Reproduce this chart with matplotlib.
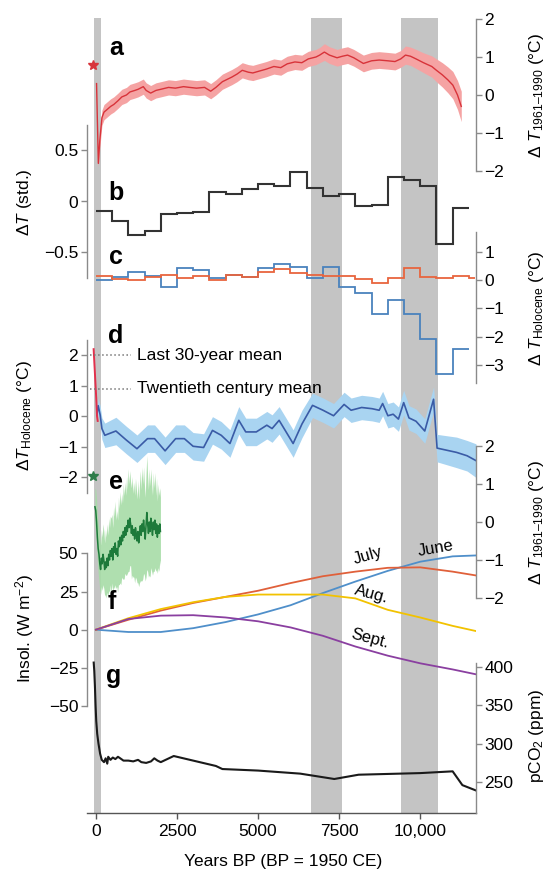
import numpy as np
import matplotlib
matplotlib.use("Agg")
import matplotlib.pyplot as plt

plt.rcParams['font.family'] = ['Liberation Sans', 'DejaVu Sans']
plt.rcParams['mathtext.fontset'] = 'custom'
plt.rcParams['mathtext.rm'] = 'Liberation Sans'
plt.rcParams['mathtext.it'] = 'Liberation Sans:italic'
plt.rcParams['mathtext.bf'] = 'Liberation Sans:bold'

# ---------------- data ----------------
x_ticks = [0, 2500, 5000, 7500, 10000]
x_tick_labels = ['0', '2500', '5000', '7500', '10,000']
bands = [(-60, 160), (6620, 7600), (9420, 10550)]

# (a) temperature reconstruction, deg C vs 1961-1990
a_years = [20, 75, 120, 185, 250, 320, 455, 550, 682, 800,
           942, 1050, 1200, 1300, 1461, 1550, 1688, 1850, 2000, 2240,
           2450, 2700, 2890, 3100, 3350, 3539, 3700, 3900, 4188, 4350,
           4513, 4700, 4838, 5000, 5250, 5487, 5700, 5900, 6136, 6350,
           6550, 6786, 6900, 7045, 7200, 7435, 7600, 7760, 7950, 8247,
           8500, 8734, 9000, 9221, 9400, 9545, 9700, 9870, 10100, 10357,
           10500, 10682, 10850, 11006, 11150, 11266]
a_vals = [0.3, -1.8, -1.2, -0.6, -0.45, -0.4, -0.3, -0.25, -0.15, -0.05,
          0.0, 0.08, 0.12, 0.15, 0.22, 0.12, 0.05, 0.12, 0.15, 0.2,
          0.18, 0.22, 0.2, 0.18, 0.2, 0.1, 0.2, 0.35, 0.47, 0.55,
          0.65, 0.6, 0.58, 0.62, 0.68, 0.75, 0.72, 0.82, 0.87, 0.85,
          0.95, 1.0, 1.05, 1.13, 1.05, 0.98, 1.02, 1.05, 0.98, 0.83,
          0.9, 0.92, 0.9, 0.88, 0.95, 1.05, 1.02, 0.95, 0.85, 0.75,
          0.65, 0.53, 0.4, 0.26, 0.0, -0.3]
a_err = [0.05, 0.1, 0.2, 0.2, 0.2, 0.2, 0.2, 0.2, 0.2, 0.2,
         0.2, 0.2, 0.2, 0.2, 0.2, 0.2, 0.2, 0.2, 0.2, 0.2,
         0.2, 0.2, 0.2, 0.2, 0.2, 0.2, 0.2, 0.2, 0.2, 0.2,
         0.2, 0.2, 0.2, 0.2, 0.2, 0.2, 0.2, 0.2, 0.2, 0.2,
         0.2, 0.2, 0.2, 0.22, 0.22, 0.22, 0.22, 0.22, 0.22, 0.22,
         0.22, 0.22, 0.22, 0.22, 0.22, 0.24, 0.24, 0.25, 0.26, 0.28,
         0.3, 0.32, 0.34, 0.36, 0.38, 0.4]
a_star_year, a_star_val = -100, 0.8

# (b) standardized anomalies, 500-yr bins
b_edges = [0, 500, 1000, 1500, 2000, 2500, 3000, 3500, 4000, 4500, 5000, 5500,
           6000, 6500, 7000, 7500, 8000, 8500, 9000, 9500, 10000, 10500, 11000, 11500]
b_vals = [-0.095, -0.19, -0.33, -0.29, -0.12, -0.11, -0.1, 0.095, 0.075, 0.125,
          0.167, 0.15, 0.29, 0.134, 0.05, 0.07, -0.045, -0.035, 0.24, 0.215,
          0.15, -0.415, -0.06]

# (c) binned composites (blue and red)
c_blue = [-0.02, 0.09, 0.29, 0.12, -0.26, 0.41, 0.35, 0.06, 0.18, 0.09,
          0.41, 0.55, 0.47, 0.06, 0.47, -0.26, -0.45, -1.2, -0.71, -1.2,
          -2.1, -3.33, -2.45]
c_red_edges = [0, 500, 1000, 1500, 2000, 2500, 3000, 3500, 4000, 4500, 5000, 5500,
               6000, 6500, 7000, 7500, 8000, 8500, 9000, 9500, 10000, 10500, 11000,
               11500, 11700]
c_red = [0.14, 0.02, 0.0, 0.09, 0.18, 0.06, 0.12, 0.0, 0.18, 0.09,
         0.29, 0.38, 0.24, 0.18, 0.14, 0.12, 0.02, -0.12, 0.05, 0.41,
         0.09, 0.05, 0.14, 0.05]

# (d) Holocene reconstruction
d_years = [30, 70, 130, 185, 275, 617, 942, 1266, 1591, 1808,
           2133, 2458, 2727, 2997, 3321, 3594, 3864, 4133, 4406, 4620,
           4945, 5270, 5432, 5649, 6081, 6354, 6679, 7003, 7328, 7653,
           7869, 8194, 8519, 8734, 8841, 9003, 9166, 9328, 9490, 9653,
           9870, 10140, 10412, 10520, 11120, 11444, 11720]
d_vals = [0.05, 0.35, 0.05, -0.4, -0.62, -0.48, -0.78, -1.06, -0.73, -0.73,
          -1.13, -0.73, -0.73, -0.98, -1.02, -0.46, -0.62, -0.89, -0.13, -0.51,
          -0.51, -0.29, -0.4, -0.13, -0.89, -0.25, 0.36, 0.2, 0.02, 0.39,
          0.2, 0.29, 0.25, 0.2, 0.42, 0.02, 0.07, -0.09, 0.45, -0.05,
          -0.16, -0.48, 0.56, -1.04, -1.18, -1.29, -1.45]
d_err = [0.2, 0.25, 0.3, 0.35, 0.4, 0.45, 0.45, 0.45, 0.45, 0.45,
         0.45, 0.45, 0.45, 0.45, 0.45, 0.45, 0.45, 0.45, 0.45, 0.45,
         0.45, 0.45, 0.45, 0.45, 0.45, 0.45, 0.4, 0.4, 0.4, 0.4,
         0.4, 0.4, 0.4, 0.4, 0.4, 0.4, 0.4, 0.4, 0.4, 0.4,
         0.4, 0.4, 0.4, 0.45, 0.5, 0.5, 0.55]
d_mod_years = [-70, -45, -20, 10, 35, 55]
d_mod_vals = [2.2, 1.7, 1.2, 0.6, 0.0, -0.15]
d_ref_levels = [2.0, 0.9]
d_ref_labels = ['Last 30-year mean', 'Twentieth century mean']

# (e) last 2000 years
e_years = [-30, -5, 20, 45, 70, 95, 120, 145, 170, 195,
           220, 245, 270, 295, 320, 345, 370, 395, 420, 445,
           470, 495, 520, 545, 570, 595, 620, 645, 670, 695,
           720, 745, 770, 795, 820, 845, 870, 895, 920, 945,
           970, 995, 1020, 1045, 1070, 1095, 1120, 1145, 1170, 1195,
           1220, 1245, 1270, 1295, 1320, 1345, 1370, 1395, 1420, 1445,
           1470, 1495, 1520, 1545, 1570, 1595, 1620, 1645, 1670, 1695,
           1720, 1745, 1770, 1795, 1820, 1845, 1870, 1895, 1920, 1945,
           1970, 1990]
e_vals = [0.4, 0.3, 0.0, -0.4, -0.7, -0.85, -1.1, -1.25, -0.95, -1.1,
          -0.85, -1.0, -1.25, -1.05, -1.2, -0.95, -1.15, -0.85, -1.0, -0.75,
          -0.9, -0.7, -1.0, -0.65, -0.8, -0.55, -0.85, -0.7, -0.9, -0.5,
          -0.65, -0.4, -0.6, -0.35, -0.5, -0.25, -0.4, -0.15, -0.35, -0.1,
          -0.25, 0.05, -0.15, 0.1, -0.05, -0.3, -0.1, -0.35, -0.2, -0.45,
          -0.15, -0.3, -0.5, -0.25, -0.55, -0.3, -0.1, -0.35, -0.05, -0.25,
          0.05, -0.2, -0.45, -0.1, 0.25, -0.05, -0.3, 0.0, -0.25, 0.1,
          -0.15, -0.35, 0.0, -0.2, 0.05, -0.3, -0.05, -0.4, -0.1, -0.3,
          -0.05, -0.25]
e_err = [0.5, 0.55, 0.6, 0.6, 0.65, 0.7, 0.7, 0.65, 0.75, 0.7,
         0.8, 0.75, 0.7, 0.85, 0.8, 0.9, 0.8, 0.95, 0.85, 0.9,
         1.0, 0.9, 0.85, 1.05, 0.95, 1.1, 0.9, 1.0, 0.95, 1.15,
         1.0, 1.2, 1.05, 1.1, 1.0, 1.25, 1.1, 1.2, 1.05, 1.3,
         1.1, 1.35, 1.15, 1.25, 1.1, 1.2, 1.3, 1.1, 1.25, 1.15,
         1.3, 1.2, 1.1, 1.35, 1.15, 1.3, 1.45, 1.2, 1.5, 1.25,
         1.4, 1.2, 1.1, 1.35, 1.5, 1.25, 1.15, 1.4, 1.2, 1.3,
         1.15, 1.05, 1.3, 1.1, 1.25, 1.0, 1.2, 0.95, 1.1, 1.0,
         0.95, 0.9]
e_star_year, e_star_val = -100, 1.2

# (f) insolation anomalies
f_years = [0, 1000, 2000, 3000, 4000, 5000, 6000, 7000, 8000, 9000, 10000, 11000, 11720]
f_june = [0, -1.5, -1.5, 1.0, 5.0, 10.0, 16.0, 24.0, 31.5, 38.5, 44.5, 48.0, 48.6]
f_july = [0, 6.5, 12.5, 17.5, 21.5, 25.5, 30.5, 35.0, 38.0, 40.5, 40.8, 38.0, 35.5]
f_aug = [0, 7.5, 13.5, 18.0, 21.5, 23.0, 23.0, 23.0, 20.5, 13.0, 8.0, 2.5, -0.9]
f_sept = [0, 7.0, 9.2, 9.5, 8.0, 5.5, 1.5, -4.0, -11.0, -17.0, -22.0, -26.0, -29.2]
f_month_labels = ['June', 'July', 'Aug.', 'Sept.']
f_label_pos = [(10490, 53.0, 10), (8390, 48.6, 16), (8490, 23.5, -15), (8463, -5.9, -15)]

# (g) CO2
co2_years = [-68, -50, -30, -10, 10, 40, 80, 130, 180, 250,
             300, 350, 380, 450, 520, 600, 680, 750, 850, 1000,
             1150, 1300, 1400, 1550, 1700, 1800, 1900, 2000, 2150, 2400,
             2800, 3300, 3700, 3900, 5000, 6300, 7350, 8100, 10000, 11000,
             11300, 11720]
co2_vals = [406, 395, 375, 350, 330, 313, 300, 287, 279, 276,
            281, 274, 283, 279, 282, 280, 283, 281, 278, 278,
            277, 279, 276, 275, 277, 281, 278, 276, 279, 284,
            280, 275, 271, 267, 265, 261, 254, 259.6, 261.7, 264,
            246, 239]

# ---------------- layout ----------------
W, H = 550, 871
fig = plt.figure(figsize=(W / 100, H / 100), dpi=100)
XL, XR = 86.5, 476
XLIM = (-290, 11720)
FS = 12.5
SPINE = '#8a8a8a'
MINUS = '\u2212'


def lab(v):
    s = ('%g' % v)
    return s.replace('-', MINUS)


def make_ax(top, bot, ylim, side, ticks, bounds=None):
    ax = fig.add_axes([XL / W, 1 - bot / H, (XR - XL) / W, (bot - top) / H])
    ax.set_xlim(XLIM)
    ax.set_ylim(ylim)
    ax.patch.set_visible(False)
    for s in ax.spines.values():
        s.set_visible(False)
    ax.set_xticks([])
    sp = ax.spines[side]
    sp.set_visible(True)
    sp.set_color(SPINE)
    sp.set_linewidth(1.0)
    if bounds is not None:
        sp.set_bounds(*bounds)
    if side == 'right':
        ax.yaxis.tick_right()
    else:
        ax.yaxis.tick_left()
    ax.set_yticks(ticks)
    ax.set_yticklabels([lab(t) for t in ticks])
    ax.tick_params(axis='y', direction='out', length=4, width=1, color=SPINE,
                   labelsize=FS, pad=2)
    return ax


# background axis with bands and x axis
TOP_BG, BOT_BG = 18, 812.7
axbg = fig.add_axes([XL / W, 1 - BOT_BG / H, (XR - XL) / W, (BOT_BG - TOP_BG) / H])
axbg.set_xlim(XLIM)
axbg.set_ylim(0, 1)
axbg.patch.set_visible(False)
for s in ['left', 'right', 'top']:
    axbg.spines[s].set_visible(False)
axbg.spines['bottom'].set_color('#555555')
axbg.spines['bottom'].set_linewidth(1.0)
axbg.set_yticks([])
axbg.set_xticks(x_ticks)
axbg.set_xticklabels(x_tick_labels)
axbg.tick_params(axis='x', direction='out', length=4, width=1, color='#555555',
                 labelsize=FS, pad=4)
for (x0, x1) in bands:
    axbg.axvspan(x0, x1, color='#c4c4c4', lw=0, zorder=0)

# (a)
axa = make_ax(19, 171, (-2, 2), 'right', [-2, -1, 0, 1, 2])
ay = np.array(a_vals)
ae = np.array(a_err)
axa.fill_between(a_years, ay - ae, ay + ae, color='#f5a3a3', lw=0)
axa.plot(a_years, a_vals, color='#d8333a', lw=1.0)
axa.plot([a_star_year], [a_star_val], marker='*', color='#d8333a', ms=7, clip_on=False)

# (b)
axb = make_ax(125, 278, (-0.75, 0.75), 'left', [-0.5, 0, 0.5])
axb.stairs(b_vals, b_edges, baseline=None, color='#333333', lw=1.5)

# (c)
axc = make_ax(231.7, 383, (-3.64, 1.7), 'right', [-3, -2, -1, 0, 1])
axc.stairs(c_blue, b_edges, baseline=None, color='#4a82bd', lw=1.3)
axc.stairs(c_red, c_red_edges, baseline=None, color='#e8653e', lw=1.3)

# (d)
axd = make_ax(340, 492.7, (-2.5, 2.5), 'left', [-2, -1, 0, 1, 2])
dy = np.array(d_vals)
de = np.array(d_err)
axd.fill_between(d_years, dy - de, dy + de, color='#a9d4f1', lw=0)
axd.plot(d_years, d_vals, color='#3a5ba6', lw=1.2)
axd.plot(d_mod_years, d_mod_vals, color='#e2304c', lw=1.4)
for lev, txt in zip(d_ref_levels, d_ref_labels):
    axd.plot([0.01, 0.115], [lev, lev], transform=axd.get_yaxis_transform(),
             ls=':', color='#777777', lw=1.1)
    axd.text(0.13, lev, txt, transform=axd.get_yaxis_transform(), fontsize=FS,
             va='center', ha='left')

# (e)
axe = make_ax(446, 598, (-2, 2), 'right', [-2, -1, 0, 1, 2])
ey = np.array(e_vals)
ee = np.array(e_err)
axe.fill_between(e_years, ey - ee, ey + ee, color='#a6dca6', lw=0, alpha=0.9)
axe.plot(e_years, e_vals, color='#1d7a3a', lw=1.1)
axe.plot([e_star_year], [e_star_val], marker='*', color='#2e7d4a', ms=7, clip_on=False)

# (f)
axf = make_ax(553.3, 706.1, (-50, 50), 'left', [-50, -25, 0, 25, 50])
f_series = [f_june, f_july, f_aug, f_sept]
f_colors = ['#4f8fca', '#e0603a', '#f2c200', '#8a3fa0']
for ser, col in zip(f_series, f_colors):
    axf.plot(f_years, ser, color=col, lw=1.3)
for txt, (xx, yy, rot) in zip(f_month_labels, f_label_pos):
    axf.text(xx, yy, txt, fontsize=12, rotation=rot, ha='center', va='center')

# (g)
axg = make_ax(659.5, 812.7, (210, 410), 'right', [250, 300, 350, 400], bounds=(210, 405))
axg.plot(co2_years, co2_vals, color='#1a1a1a', lw=1.5)

# panel letters
letters = [('a', 116, 48), ('b', 116, 193), ('c', 116, 257), ('d', 116, 336),
           ('e', 116, 482), ('f', 112, 602), ('g', 114, 676)]
for t, px, py in letters:
    fig.text(px / W, 1 - py / H, t, fontsize=18, fontweight='bold', ha='center', va='center')

# axis labels
left_labels = [('\u0394$T$ (std.)', 202), ('\u0394$T_{\\mathrm{Holocene}}$ (\u00b0C)', 416),
               ('Insol. (W m$^{-2}$)', 628)]
for txt, py in left_labels:
    fig.text(25 / W, 1 - py / H, txt, fontsize=FS, rotation=90, ha='center', va='center')
right_labels = [('\u0394 $T_{\\mathrm{1961\u20131990}}$ (\u00b0C)', 95),
                ('\u0394 $T_{\\mathrm{Holocene}}$ (\u00b0C)', 308),
                ('\u0394 $T_{\\mathrm{1961\u20131990}}$ (\u00b0C)', 522),
                ('pCO$_2$ (ppm)', 736)]
for txt, py in right_labels:
    fig.text(537 / W, 1 - py / H, txt, fontsize=FS, rotation=90, ha='center', va='center')

fig.text(283 / W, 1 - 861 / H, 'Years BP (BP = 1950 CE)', fontsize=FS, ha='center', va='center')

fig.savefig('out.png', dpi=100)
